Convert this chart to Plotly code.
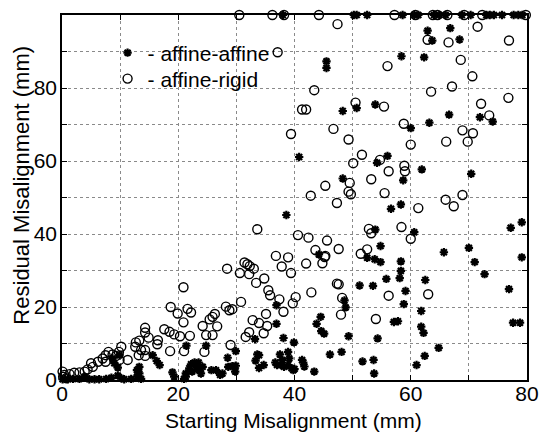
import plotly.graph_objects as go

# affine-rigid (open circles)
rigid_x = [30.5, 36.2, 38.2, 44.2, 57.2, 60.8, 63.8, 64.6, 66.3, 69.2, 72.3, 79.8,
           47.4, 37.1, 56.0, 62.9, 66.5, 71.5, 76.9, 68.6, 70.6, 43.4, 63.5, 67.1, 76.8,
           41.3, 42.0, 50.5, 55.4, 72.1, 73.5, 58.8, 46.7, 68.9, 70.7, 39.4, 49.3, 60.0,
           66.1, 69.8, 51.6, 50.1, 54.7, 56.2, 58.9, 59.0, 49.5, 53.2, 45.3, 49.3, 49.7,
           55.5, 42.8, 47.3, 66.0, 68.9, 67.4, 61.3, 33.6, 52.8, 53.2, 58.4, 60.0, 40.6,
           42.4, 45.6, 47.6, 43.6, 45.3, 52.5, 51.4, 45.2, 44.8, 42.0, 36.8, 38.9, 37.8,
           39.4, 28.4, 30.6, 31.4, 31.9, 32.3, 33.0, 32.2, 34.8, 33.4, 20.9, 47.3, 47.6,
           35.5, 35.8, 37.4, 42.9, 40.2, 39.7, 30.8, 48.2, 56.2, 63.0, 48.0, 38.1, 35.1,
           28.2, 28.8, 29.3, 18.7, 19.9, 21.6, 22.2, 20.9, 26.3, 25.9, 25.4, 32.8, 33.9,
           35.3, 54.0, 26.7, 24.2, 34.7, 32.2, 31.6, 24.8, 25.9, 29.0, 17.6, 18.5, 19.3,
           20.3, 22.0, 18.6, 21.0, 24.5, 14.3, 14.3, 14.9, 16.5, 16.4, 12.7, 13.3, 12.6,
           13.6, 13.2, 14.3, 14.3, 10.2, 9.8, 8.7, 9.3, 8.0, 7.5, 7.0, 6.2, 7.5, 11.3,
           9.9, 5.0, 5.3, 4.4, 3.9, 3.0, 2.1, 1.3, 0.4, 0.1, 0.2, 0.7]
rigid_y = [100, 100, 100, 100, 100, 100, 100, 100, 100, 100, 100, 100,
           97.5, 89.8, 86.0, 93.2, 92.5, 96.8, 93.0, 87.7, 83.2, 79.4, 79.0, 80.4, 77.3,
           74.1, 74.1, 76.0, 74.9, 75.7, 72.5, 70.2, 68.8, 68.4, 67.6, 67.4, 65.9, 64.5,
           65.3, 65.3, 61.7, 59.4, 60.3, 57.2, 58.7, 57.2, 54.0, 55.0, 53.2, 51.6, 50.9,
           51.2, 50.5, 48.5, 49.4, 50.7, 47.6, 47.1, 41.3, 41.4, 40.2, 41.9, 38.7, 39.7,
           39.0, 38.2, 35.9, 35.6, 34.0, 35.8, 34.6, 33.7, 32.0, 31.9, 34.0, 33.6, 31.1,
           29.3, 30.5, 29.3, 32.2, 31.7, 31.2, 30.5, 29.0, 27.8, 26.6, 25.4, 26.4, 26.2,
           24.6, 23.2, 22.1, 24.0, 22.7, 21.0, 21.4, 22.5, 23.1, 23.5, 17.9, 18.7, 18.1,
           20.1, 19.1, 19.4, 20.0, 18.2, 19.5, 18.5, 15.8, 18.1, 17.3, 16.6, 16.4, 15.6,
           14.8, 16.7, 14.7, 14.8, 12.8, 13.1, 11.8, 12.3, 12.3, 9.6, 13.9, 13.2, 12.5,
           12.0, 12.1, 7.9, 7.9, 7.7, 14.3, 13.0, 11.6, 10.9, 9.8, 10.3, 10.8, 9.1,
           8.2, 6.8, 8.2, 6.6, 9.1, 7.7, 7.0, 6.6, 7.7, 6.8, 5.9, 5.0, 5.0, 5.5,
           5.5, 4.6, 3.6, 2.9, 2.3, 2.1, 2.0, 1.6, 1.4, 2.3, 0.9, 0.5]

# affine-affine (asterisks)
affine_x = [38.0, 50.2, 50.7, 52.5, 58.6, 60.6, 61.3, 64.0, 64.9, 66.0, 68.8, 70.3,
            73.0, 73.6, 74.3, 75.7, 77.7, 78.5, 79.2,
            45.5, 45.5, 58.4, 62.9, 63.7, 66.8, 68.4, 62.3, 48.3, 50.7, 53.9, 66.6, 71.9,
            74.1, 60.0, 63.2, 40.8, 54.2, 56.0, 61.9, 70.4, 48.3, 58.7, 56.6, 58.3, 38.6,
            79.1, 77.2, 53.9, 60.6, 54.8, 70.0, 44.2, 52.5, 53.8, 54.8, 58.3, 65.7, 79.1,
            71.0, 72.7, 58.3, 55.8, 58.1, 62.5, 76.9, 51.2, 53.5, 59.1, 36.9, 48.6, 48.8,
            58.8, 61.8, 38.1, 36.9, 33.2, 39.9, 57.1, 57.8, 61.8, 62.2, 77.6, 78.8, 43.8,
            44.6, 45.1, 44.5, 49.3, 54.3, 64.8, 62.4, 61.0, 48.1, 46.1, 51.7, 53.6, 53.7,
            43.4, 41.3, 41.5, 41.7, 37.5, 37.9, 38.9, 39.1, 37.0, 37.7, 38.2, 38.9, 39.5,
            39.8, 40.0, 36.7, 33.6, 33.9, 33.3, 34.7, 33.9, 29.9, 28.5, 28.6, 29.3, 29.9,
            29.8, 27.6, 27.2, 26.5, 25.7, 24.8, 21.4, 21.9, 22.2, 22.8, 23.2, 22.4, 23.6,
            21.3, 23.9, 23.5, 24.2, 21.3, 21.0, 19.0, 19.3, 15.6, 16.3, 16.8, 13.3, 12.9,
            13.3, 9.6, 9.0, 8.7, 9.9, 0.1, 1.0, 1.9, 3.0, 3.9, 4.7, 5.6, 6.4, 7.6, 8.5,
            9.6, 10.2, 10.7, 11.9, 12.9, 13.6]
affine_y = [100, 100, 100, 100, 100, 100, 100, 100, 100, 100, 100, 100,
            100, 100, 100, 100, 100, 100, 100,
            87.3, 85.5, 88.7, 95.7, 93.0, 96.4, 93.3, 88.4, 73.7, 74.5, 75.5, 72.7, 72.0,
            70.8, 69.0, 70.5, 61.1, 59.5, 61.4, 57.7, 56.5, 55.2, 54.7, 46.9, 48.1, 45.2,
            43.2, 41.7, 41.2, 40.5, 36.7, 36.2, 34.4, 33.5, 33.1, 32.3, 32.5, 35.0, 33.6,
            32.3, 29.0, 29.9, 27.7, 27.9, 27.4, 24.9, 25.9, 25.8, 24.4, 20.5, 21.8, 19.9,
            20.8, 18.9, 11.5, 15.4, 11.2, 10.3, 15.9, 16.1, 14.6, 12.9, 15.7, 15.7, 15.4,
            13.4, 12.7, 17.3, 12.0, 11.4, 8.8, 6.6, 4.1, 7.7, 7.0, 5.1, 5.5, 1.8,
            2.3, 5.5, 4.8, 3.7, 7.0, 5.5, 7.7, 5.9, 4.1, 4.1, 3.6, 4.1, 3.2,
            2.7, 3.0, 4.8, 7.0, 6.8, 5.3, 4.1, 3.3, 7.9, 6.1, 3.6, 3.8, 3.9,
            2.3, 1.8, 1.4, 2.7, 2.7, 9.4, 9.4, 3.2, 4.3, 4.8, 3.4, 2.3, 2.7,
            1.8, 1.8, 4.8, 3.6, 0.9, 0.3, 2.1, 0.9, 6.8, 5.2, 4.1, 1.8, 2.7,
            3.6, 3.4, 4.6, 5.9, 6.8, 0.2, 0.2, 0.3, 0.3, 0.9, 0.2, 0.2, 0.2, 0.3, 0.6,
            1.2, 0.5, 0.2, 0.3, 0.9, 0.3]

tick_vals = [0, 10, 20, 30, 40, 50, 60, 70, 80]
x_tick_text = ["0", "", "20", "", "40", "", "60", "", "80"]
y_tick_vals = [0, 10, 20, 30, 40, 50, 60, 70, 80, 90]
y_tick_text = ["0", "", "20", "", "40", "", "60", "", "80", ""]

FONT = "Liberation Sans, Arial, sans-serif"

fig = go.Figure()
fig.add_trace(go.Scatter(
    x=affine_x, y=affine_y, mode="markers", name="- affine-affine",
    legend="legend",
    marker=dict(symbol="asterisk-open", size=7, color="black",
                line=dict(color="black", width=2.2)),
    cliponaxis=False))
fig.add_trace(go.Scatter(
    x=rigid_x, y=rigid_y, mode="markers", name="- affine-rigid",
    legend="legend2",
    marker=dict(symbol="circle-open", size=9, color="black",
                line=dict(color="black", width=1.4)),
    cliponaxis=False))

axis_common = dict(
    showline=True, linecolor="black", linewidth=1.5, mirror="ticks",
    ticks="inside", ticklen=5, tickwidth=1.2, tickcolor="black",
    showgrid=True, gridcolor="#8a8a8a", griddash="dot", gridwidth=1,
    zeroline=False, automargin=False,
    tickfont=dict(size=21, color="black", family=FONT),
)

legend_common = dict(xanchor="left", yanchor="top", bgcolor="rgba(0,0,0,0)",
                     font=dict(size=21, family=FONT), itemwidth=30)

fig.update_layout(
    width=541, height=432,
    margin=dict(l=62, r=14, t=15, b=52),
    paper_bgcolor="white", plot_bgcolor="white",
    font=dict(family=FONT, color="black"),
    showlegend=True,
    legend=dict(x=0.098, y=0.952, **legend_common),
    legend2=dict(x=0.098, y=0.881, **legend_common),
    xaxis=dict(range=[0, 80], tickmode="array", tickvals=tick_vals,
               ticktext=x_tick_text, ticklabelstandoff=-6, **axis_common),
    yaxis=dict(range=[0, 100], tickmode="array", tickvals=y_tick_vals,
               ticktext=y_tick_text, ticklabelstandoff=-1, **axis_common),
    annotations=[
        dict(text="Starting Misalignment (mm)", xref="paper", yref="paper",
             x=0.497, y=-0.11, xanchor="center", yanchor="middle",
             showarrow=False, font=dict(size=21, family=FONT, color="black")),
        dict(text="Residual Misalignment (mm)", xref="paper", yref="paper",
             x=-0.087, y=0.534, xanchor="center", yanchor="middle",
             textangle=-90, showarrow=False,
             font=dict(size=22, family=FONT, color="black")),
    ],
)

fig.write_html("out.html")
